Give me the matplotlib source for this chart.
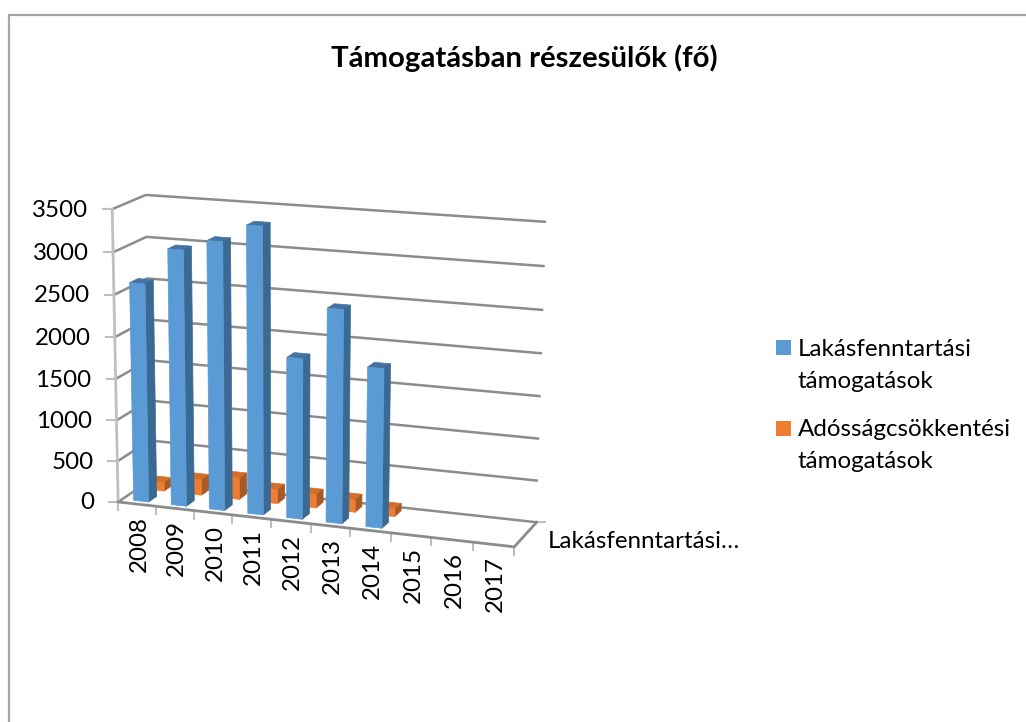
import numpy as np
import matplotlib
matplotlib.use("Agg")
import matplotlib.pyplot as plt
from matplotlib.patches import Polygon, Rectangle

plt.rcParams["font.family"] = ["Lato", "DejaVu Sans"]

years = ["2008", "2009", "2010", "2011", "2012", "2013", "2014", "2015", "2016", "2017"]
lakas = [2630, 3060, 3190, 3400, 1910, 2520, 1880]
adossag = [100, 190, 260, 170, 160, 150, 90]
y_ticks = [0, 500, 1000, 1500, 2000, 2500, 3000, 3500]
series_names = ["Lakásfenntartási\ntámogatások", "Adósságcsökkentési\ntámogatások"]
depth_label = "Lakásfenntartási…"

# corners of the 3d box: (category, depth, value) -> pixel
corners = [
    ((0, 0, 0), (119.5, 501)),
    ((10, 0, 0), (514, 548)),
    ((0, 1, 0), (149, 481)),
    ((10, 1, 0), (537, 521)),
    ((0, 0, 3500), (111, 209)),
    ((0, 1, 3500), (147, 195)),
    ((10, 1, 3500), (546, 222)),
]

# fit the perspective camera to the corners
A = []
for (u, d, v), (px, py) in corners:
    w = v / 1000.0
    A.append([u, d, w, 1, 0, 0, 0, 0, -px*u, -px*d, -px*w, -px])
    A.append([0, 0, 0, 0, u, d, w, 1, -py*u, -py*d, -py*w, -py])
cam = np.linalg.svd(np.array(A, dtype=float))[2][-1].reshape(3, 4)


def project(u, d, v):
    p = cam @ np.array([u, d, v / 1000.0, 1.0])
    return p[0] / p[2], p[1] / p[2]


def bar(ax, u0, u1, d0, d1, value, front, side, top):
    # back to front: top, side, front
    ax.add_patch(Polygon([project(u0, d0, value), project(u1, d0, value),
                          project(u1, d1, value), project(u0, d1, value)],
                         fc=top, ec=top, lw=0.5, zorder=3))
    ax.add_patch(Polygon([project(u1, d0, 0), project(u1, d1, 0),
                          project(u1, d1, value), project(u1, d0, value)],
                         fc=side, ec=side, lw=0.5, zorder=3))
    ax.add_patch(Polygon([project(u0, d0, 0), project(u1, d0, 0),
                          project(u1, d0, value), project(u0, d0, value)],
                         fc=front, ec=front, lw=0.5, zorder=3))


fig = plt.figure(figsize=(10.26, 7.22), dpi=100)
ax = fig.add_axes([0, 0, 1, 1])
ax.set_xlim(0, 1026)
ax.set_ylim(722, 0)
ax.axis("off")

grid = "#8c8c8c"
frame = "#bfbfbf"
text_size = 17.4

# only the top and left edges of the chart frame are in the picture
ax.plot([9, 9, 1026], [722, 14.5, 14.5], color="#a6a6a6", lw=1.6, solid_joinstyle="miter")

# walls
for t in y_ticks:
    xs, ys = zip(project(0, 0, t), project(0, 1, t), project(10, 1, t))
    ax.plot(xs, ys, color=grid, lw=1.8, zorder=1, solid_capstyle="butt")
    x0, y0 = project(0, 0, t)
    ax.plot([x0 - 9, x0], [y0, y0], color=frame, lw=1.5, zorder=1)
    ax.text(x0 - 24, y0 + 1, str(t), ha="right", va="center", fontsize=text_size, color="black")

xs, ys = zip(project(0, 0, 0), project(0, 0, 3500))
ax.plot(xs, ys, color=frame, lw=2, zorder=1)

# floor
xs, ys = zip(project(0, 0, 0), project(10, 0, 0), project(10, 1, 0))
ax.plot(xs, ys, color=grid, lw=2, zorder=2, solid_joinstyle="miter")
x1, y1 = project(10, 1, 0)
ax.plot([x1, x1 + 8], [y1, y1], color=frame, lw=1.5, zorder=1)

for i in range(len(years) + 1):
    x0, y0 = project(i, 0, 0)
    ax.plot([x0, x0], [y0, y0 + 8], color=frame, lw=1.5, zorder=1)
for i, year in enumerate(years):
    x0, y0 = project(i + 0.5, 0, 0)
    ax.text(x0 + 2, y0 + 12, year, rotation=90, ha="center", va="top", fontsize=text_size, color="black")

ax.text(548, 542, depth_label, ha="left", va="center", fontsize=text_size, color="black")

# bars, orange row is further back so goes first
for i, value in enumerate(adossag):
    bar(ax, i + 0.3, i + 0.7, 0.62, 0.87, value, "#ed7d31", "#a85a24", "#d46f2b")
for i, value in enumerate(lakas):
    bar(ax, i + 0.3, i + 0.7, 0.13, 0.38, value, "#5b9bd5", "#3a6a94", "#44749f")

ax.text(524, 58, "Támogatásban részesülők (fő)", ha="center", va="center",
        fontsize=21.2, fontweight="bold", color="black")

# legend
ax.add_patch(Rectangle((776, 340), 15, 15, fc="#5b9bd5", ec="none"))
ax.add_patch(Rectangle((776, 421), 15, 15, fc="#ed7d31", ec="none"))
ax.text(798, 349, series_names[0].split("\n")[0], va="center", fontsize=text_size)
ax.text(798, 382, series_names[0].split("\n")[1], va="center", fontsize=text_size)
ax.text(798, 430, series_names[1].split("\n")[0], va="center", fontsize=text_size)
ax.text(798, 462, series_names[1].split("\n")[1], va="center", fontsize=text_size)

fig.savefig("out.png", dpi=100)
